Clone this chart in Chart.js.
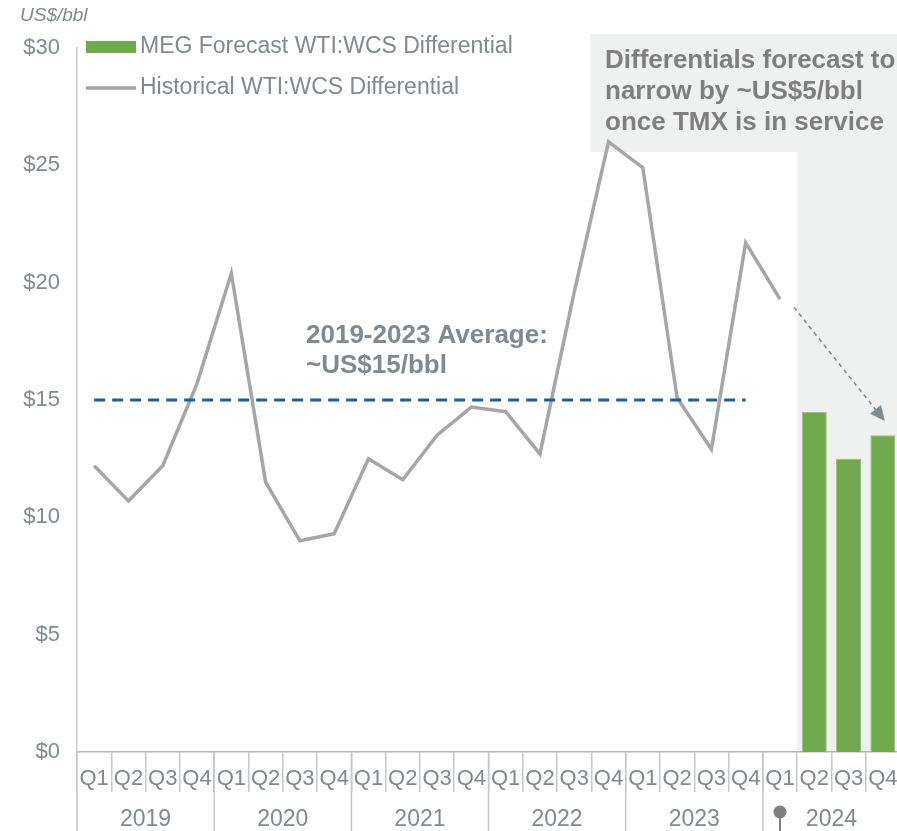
<!DOCTYPE html>
<html>
<head>
<meta charset="utf-8">
<title>WTI:WCS Differential</title>
<script src="https://cdn.jsdelivr.net/npm/chart.js@4.4.0/dist/chart.umd.min.js"></script>
<style>
    html, body { margin: 0; padding: 0; overflow: hidden; background: #fff; }
    canvas { display: block; }
</style>
</head>
<body>
<canvas id="chart" width="900" height="831"></canvas>
<script>
// Chart data
const quarters = ['Q1', 'Q2', 'Q3', 'Q4', 'Q1', 'Q2', 'Q3', 'Q4', 'Q1', 'Q2', 'Q3', 'Q4',
                  'Q1', 'Q2', 'Q3', 'Q4', 'Q1', 'Q2', 'Q3', 'Q4', 'Q1', 'Q2', 'Q3', 'Q4'];
const years = ['2019', '2020', '2021', '2022', '2023', '2024'];
const historical = [12.2, 10.7, 12.2, 15.7, 20.4, 11.5, 9.0, 9.3, 12.5, 11.6, 13.5, 14.7,
                    14.5, 12.7, 19.6, 26.0, 24.9, 15.1, 12.9, 21.7, 19.3, null, null, null];
const forecast = [null, null, null, null, null, null, null, null, null, null, null, null,
                  null, null, null, null, null, null, null, null, null, 14.5, 12.5, 13.5];
const average = [15, 15, 15, 15, 15, 15, 15, 15, 15, 15, 15, 15,
                 15, 15, 15, 15, 15, 15, 15, 15, null, null, null, null];
const yTicks = [0, 5, 10, 15, 20, 25, 30];

const FONT = '"Liberation Sans", Arial, sans-serif';
const AXIS_TEXT = '#7f8a92';
const GREEN = '#70a84c';
const LINE_GREY = '#a6a6a6';

// Extra drawing: shaded forecast zone, year row, legend, notes, arrow
const decorations = {
    id: 'decorations',
    beforeDatasetsDraw(chart) {
        const { ctx, chartArea, scales: { x } } = chart;
        const half = (x.getPixelForValue(1) - x.getPixelForValue(0)) / 2;
        const split = x.getPixelForValue(21) - half;
        ctx.save();
        ctx.fillStyle = '#eff0f0';
        ctx.fillRect(590, 34, chart.width - 590, 118);
        ctx.fillRect(split, 34, chart.width - split, chartArea.bottom - 35);
        ctx.restore();
    },
    afterDraw(chart) {
        const { ctx, chartArea, scales: { x, y } } = chart;
        const half = (x.getPixelForValue(1) - x.getPixelForValue(0)) / 2;
        ctx.save();

        // year separators and labels
        ctx.strokeStyle = '#c3c8cc';
        ctx.lineWidth = 1.5;
        years.forEach((yr, i) => {
            const left = x.getPixelForValue(i * 4) - half;
            ctx.beginPath();
            ctx.moveTo(left, chartArea.bottom);
            ctx.lineTo(left, chart.height);
            ctx.stroke();
            const mid = (x.getPixelForValue(i * 4 + 1) + x.getPixelForValue(i * 4 + 2)) / 2;
            ctx.fillStyle = AXIS_TEXT;
            ctx.font = '23px ' + FONT;
            ctx.textAlign = 'center';
            ctx.textBaseline = 'middle';
            ctx.fillText(yr, mid, 820);
        });

        // pin marker under Q1 2024
        const pinX = x.getPixelForValue(20);
        ctx.fillStyle = '#7f7f7f';
        ctx.strokeStyle = '#7f7f7f';
        ctx.lineWidth = 2;
        ctx.beginPath();
        ctx.moveTo(pinX, 812);
        ctx.lineTo(pinX, chart.height);
        ctx.stroke();
        ctx.beginPath();
        ctx.arc(pinX, 812, 6.5, 0, Math.PI * 2);
        ctx.fill();

        // unit label
        ctx.fillStyle = AXIS_TEXT;
        ctx.font = 'italic 19px ' + FONT;
        ctx.textAlign = 'left';
        ctx.textBaseline = 'middle';
        ctx.fillText('US$/bbl', 20, 16);

        // legend
        ctx.font = '23px ' + FONT;
        ctx.fillStyle = GREEN;
        ctx.fillRect(86, 41, 50, 12);
        ctx.fillStyle = AXIS_TEXT;
        ctx.fillText('MEG Forecast WTI:WCS Differential', 140, 47);
        ctx.strokeStyle = LINE_GREY;
        ctx.lineWidth = 3.5;
        ctx.beginPath();
        ctx.moveTo(86, 88);
        ctx.lineTo(136, 88);
        ctx.stroke();
        ctx.fillText('Historical WTI:WCS Differential', 140, 88);

        // notes
        ctx.textBaseline = 'alphabetic';
        ctx.font = 'bold 26px ' + FONT;
        ctx.fillStyle = '#7f7f7f';
        ctx.fillText('Differentials forecast to', 605, 68);
        ctx.fillText('narrow by ~US$5/bbl', 605, 99);
        ctx.fillText('once TMX is in service', 605, 130);
        ctx.fillStyle = AXIS_TEXT;
        ctx.fillText('2019-2023 Average:', 306, 343);
        ctx.fillText('~US$15/bbl', 306, 373);

        // dotted arrow towards the forecast bars
        const x0 = x.getPixelForValue(20) + 14, y0 = y.getPixelForValue(18.95);
        const x1 = x.getPixelForValue(23) + 2, y1 = y.getPixelForValue(14.1);
        const ang = Math.atan2(y1 - y0, x1 - x0);
        const head = 15;
        ctx.strokeStyle = '#7f8a92';
        ctx.fillStyle = '#7f8a92';
        ctx.lineWidth = 1.5;
        ctx.setLineDash([4, 4]);
        ctx.beginPath();
        ctx.moveTo(x0, y0);
        ctx.lineTo(x1 - head * Math.cos(ang), y1 - head * Math.sin(ang));
        ctx.stroke();
        ctx.setLineDash([]);
        ctx.beginPath();
        ctx.moveTo(x1, y1);
        ctx.lineTo(x1 - head * Math.cos(ang) + 7 * Math.sin(ang), y1 - head * Math.sin(ang) - 7 * Math.cos(ang));
        ctx.lineTo(x1 - head * Math.cos(ang) - 7 * Math.sin(ang), y1 - head * Math.sin(ang) + 7 * Math.cos(ang));
        ctx.closePath();
        ctx.fill();

        ctx.restore();
    }
};

new Chart(document.getElementById('chart'), {
    type: 'bar',
    data: {
        labels: quarters,
        datasets: [
            {
                type: 'line',
                label: '2019-2023 Average',
                data: average,
                borderColor: '#1f5c99',
                borderWidth: 3,
                borderDash: [11, 7],
                pointRadius: 0,
                fill: false,
                order: 0
            },
            {
                type: 'line',
                label: 'Historical WTI:WCS Differential',
                data: historical,
                borderColor: LINE_GREY,
                borderWidth: 3.5,
                pointRadius: 0,
                tension: 0,
                fill: false,
                order: 1
            },
            {
                label: 'MEG Forecast WTI:WCS Differential',
                data: forecast,
                backgroundColor: GREEN,
                borderColor: '#93bf74',
                borderWidth: 1,
                barPercentage: 0.73,
                categoryPercentage: 1.0,
                order: 2
            }
        ]
    },
    options: {
        responsive: false,
        animation: false,
        events: [],
        layout: { padding: { top: 48, left: 0, right: 0, bottom: 0 } },
        plugins: {
            legend: { display: false },
            tooltip: { enabled: false }
        },
        scales: {
            x: {
                type: 'category',
                offset: true,
                grid: {
                    offset: true,
                    drawOnChartArea: false,
                    drawTicks: true,
                    tickLength: 40,
                    color: '#c3c8cc',
                    lineWidth: 1.5
                },
                border: { color: '#b0b6bb', width: 1.5 },
                ticks: {
                    color: AXIS_TEXT,
                    font: { family: FONT, size: 22 },
                    padding: -26,
                    maxRotation: 0,
                    autoSkip: false
                },
                afterFit(axis) { axis.height = 79; }
            },
            y: {
                min: 0,
                max: 30,
                afterBuildTicks(axis) { axis.ticks = yTicks.map(v => ({ value: v })); },
                grid: { display: false, drawTicks: false },
                border: { color: '#c8cbce', width: 1.5 },
                ticks: {
                    color: AXIS_TEXT,
                    font: { family: FONT, size: 22 },
                    padding: 17,
                    callback: v => '$' + v
                },
                afterFit(axis) { axis.width = 77; }
            }
        }
    },
    plugins: [decorations]
});
</script>
</body>
</html>
